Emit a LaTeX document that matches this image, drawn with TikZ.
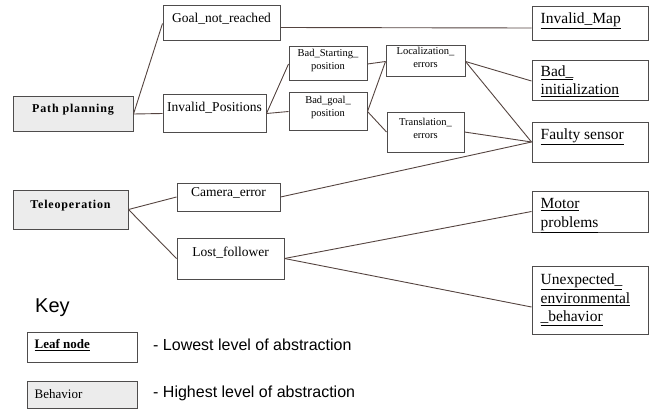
\documentclass[tikz,border=0pt]{standalone}
\usepackage{fontspec}
\setmainfont{Liberation Serif}
\newfontfamily\keyfont{Liberation Sans}
\newfontfamily\spacedfont[LetterSpace=7]{Liberation Serif}
\usetikzlibrary{fit}
\definecolor{boxline}{RGB}{78,76,76}
\definecolor{linkline}{RGB}{85,68,64}
\definecolor{behavfill}{RGB}{236,236,236}

\begin{document}
\begin{tikzpicture}[x=1pt,y=-1pt,
    box/.style={draw=boxline,line width=1pt,inner sep=0pt},
    behav/.style={box,fill=behavfill},
    mid/.style={font=\fontsize{13.5}{15}\selectfont},
    small/.style={font=\fontsize{10.5}{13}\selectfont,align=center},
    leaf/.style={font=\fontsize{15.5}{18.5}\selectfont,align=left,anchor=west,inner sep=0pt},
    keytxt/.style={font=\keyfont\fontsize{16}{19}\selectfont,anchor=west,inner sep=0pt},
    link/.style={draw=linkline,line width=0.9pt}]
  \useasboundingbox (0,0) rectangle (652,409);

  % behaviors
  \node[behav,fit={(13,97) (133,131)},font=\spacedfont\bfseries\fontsize{12}{14}\selectfont] (path) {Path planning};
  \node[behav,fit={(13,190) (128,229)},font=\spacedfont\bfseries\fontsize{12}{14}\selectfont] (tele) {Teleoperation};

  % middle level
  \node[box,fit={(163,6) (280,41)},mid] (goal) {Goal\_not\_reached};
  \node[box,fit={(163,95) (266,132)}] (invpos) {};
  \node[mid] (invpostxt) at ([shift={(0,-6)}]invpos.center) {Invalid\_Positions};
  \node[box,fit={(177,183) (280,211)},mid] (cam) {Camera\_error};
  \node[box,fit={(177,238) (284,279)}] (lost) {};
  \node[mid] (losttxt) at ([shift={(0,-6)}]lost.center) {Lost\_follower};

  \node[box,fit={(289,47) (367,81)},small] (badstart) {Bad\_Starting\_\\position};
  \node[box,fit={(289,93) (367,130)},small] (badgoal) {Bad\_goal\_\\position};
  \node[box,fit={(386,46) (465,77)},small] (loc) {Localization\_\\errors};
  \node[box,fit={(387,112) (464,152)},small] (trans) {Translation\_\\errors};

  % leaf nodes
  \node[box,fit={(532,7) (648,41)}] (map) {};
  \node[leaf] (maptxt) at ([shift={(9,-3)}]map.west) {\underline{Invalid\_Map}};
  \node[box,fit={(532,61) (648,101)}] (init) {};
  \node[leaf] (inittxt) at ([shift={(9,0)}]init.west) {\underline{Bad\_}\\\underline{initialization}};
  \node[box,fit={(532,122) (648,162)}] (sensor) {};
  \node[leaf] (sensortxt) at ([shift={(9,-5)}]sensor.west) {\underline{Faulty sensor}};
  \node[box,fit={(532,191) (648,232)}] (motor) {};
  \node[leaf] (motortxt) at ([shift={(9,4)}]motor.west) {\underline{Motor}\\\underline{problems}};
  \node[box,fit={(532,266) (648,334)}] (env) {};
  \node[leaf] (envtxt) at ([shift={(9,0)}]env.west) {\underline{Unexpected\_}\\\underline{environmental}\\\underline{\_behavior}};

  % connectors
  \draw[link] (path.east) -- (goal.west);
  \draw[link] (path.east) -- (invpos.west);
  \draw[link] ([shift={(0,4)}]goal.east) -- ([shift={(0,4)}]map.west);
  \draw[link] (invpos.east) -- (badstart.west);
  \draw[link] (invpos.east) -- (badgoal.west);
  \draw[link] (badstart.east) -- (loc.west);
  \draw[link] (badgoal.east) -- (loc.west);
  \draw[link] (badgoal.east) -- (trans.west);
  \draw[link] (loc.east) -- (init.west);
  \draw[link] (loc.east) -- (sensor.west);
  \draw[link] (trans.east) -- (sensor.west);
  \draw[link] (cam.east) -- (sensor.west);
  \draw[link] (tele.east) -- (cam.west);
  \draw[link] (tele.east) -- (lost.west);
  \draw[link] (lost.east) -- (motor.west);
  \draw[link] (lost.east) -- ([shift={(0,7)}]env.west);

  % key
  \node[font=\keyfont\fontsize{20}{24}\selectfont,anchor=west,inner sep=0pt] (key) at (35,308) {Key};
  \node[box,fit={(27,332) (137,362)}] (leafkey) {};
  \node[font=\bfseries\fontsize{13}{15}\selectfont,anchor=west,inner sep=0pt] (leafkeytxt) at ([shift={(8,-2)}]leafkey.west) {\underline{Leaf node}};
  \node[behav,fit={(27,381) (137,408)}] (behkey) {};
  \node[font=\fontsize{13}{15}\selectfont,anchor=west,inner sep=0pt] (behkeytxt) at ([shift={(8,0)}]behkey.west) {Behavior};
  \node[keytxt] (lowtxt) at (153,345) {- Lowest level of abstraction};
  \node[keytxt] (hightxt) at (153,393) {- Highest level of abstraction};
\end{tikzpicture}
\end{document}
